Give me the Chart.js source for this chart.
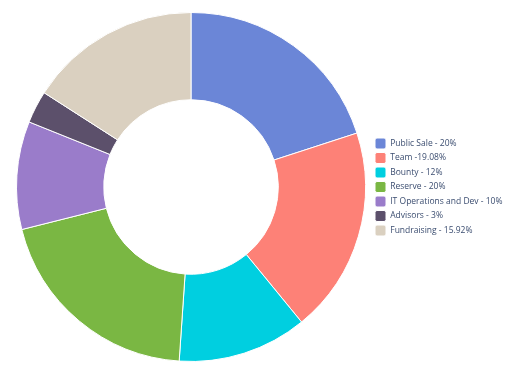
<!DOCTYPE html>
<html>
<head>
<meta charset="utf-8">
<script src="https://cdn.jsdelivr.net/npm/chart.js@4/dist/chart.umd.min.js"></script>
<style>
  body { margin: 0; background: #fff; }
  #wrap { width: 510px; height: 373px; }
</style>
</head>
<body>
<div id="wrap"><canvas id="chart" width="510" height="373"></canvas></div>
<script>
const labels = ["Public Sale - 20%", "Team -19.08%", "Bounty - 12%", "Reserve - 20%",
    "IT Operations and Dev - 10%", "Advisors - 3%", "Fundraising - 15.92%"];
const shares = [20, 19.08, 12, 20, 10, 3, 15.92];
const colors = ["#6b86d7", "#fd8177", "#00cfe0", "#7ab743", "#9a7cca", "#5c506b", "#dad0c0"];

const fontFamily = "'Open Sans'";
const fontSize = 8.5;

const ctx = document.getElementById("chart").getContext("2d");

// legend should start at x=375, so work out how much room the widest label needs
ctx.font = fontSize + "px " + fontFamily;
const widest = Math.max(...labels.map(l => ctx.measureText(l).width));
const legendRight = 371.5 + 11 + fontSize / 2 + widest + 13.5;

new Chart(ctx, {
    type: "doughnut",
    data: {
        labels,
        datasets: [{
            data: shares,
            backgroundColor: colors,
            borderColor: "#ffffff",
            borderWidth: 1,
            hoverOffset: 0
        }]
    },
    options: {
        responsive: false,
        animation: false,
        cutout: "50%",
        layout: { padding: { left: 10.5, top: 12, bottom: 11, right: 510 - legendRight } },
        plugins: {
            tooltip: { enabled: false },
            legend: {
                position: "right",
                align: "center",
                labels: {
                    boxWidth: 11,
                    boxHeight: 11,
                    padding: 3.5,
                    useBorderRadius: true,
                    borderRadius: 2,
                    color: "#3b4d70",
                    font: { family: fontFamily, size: fontSize }
                }
            }
        }
    }
});
</script>
</body>
</html>
